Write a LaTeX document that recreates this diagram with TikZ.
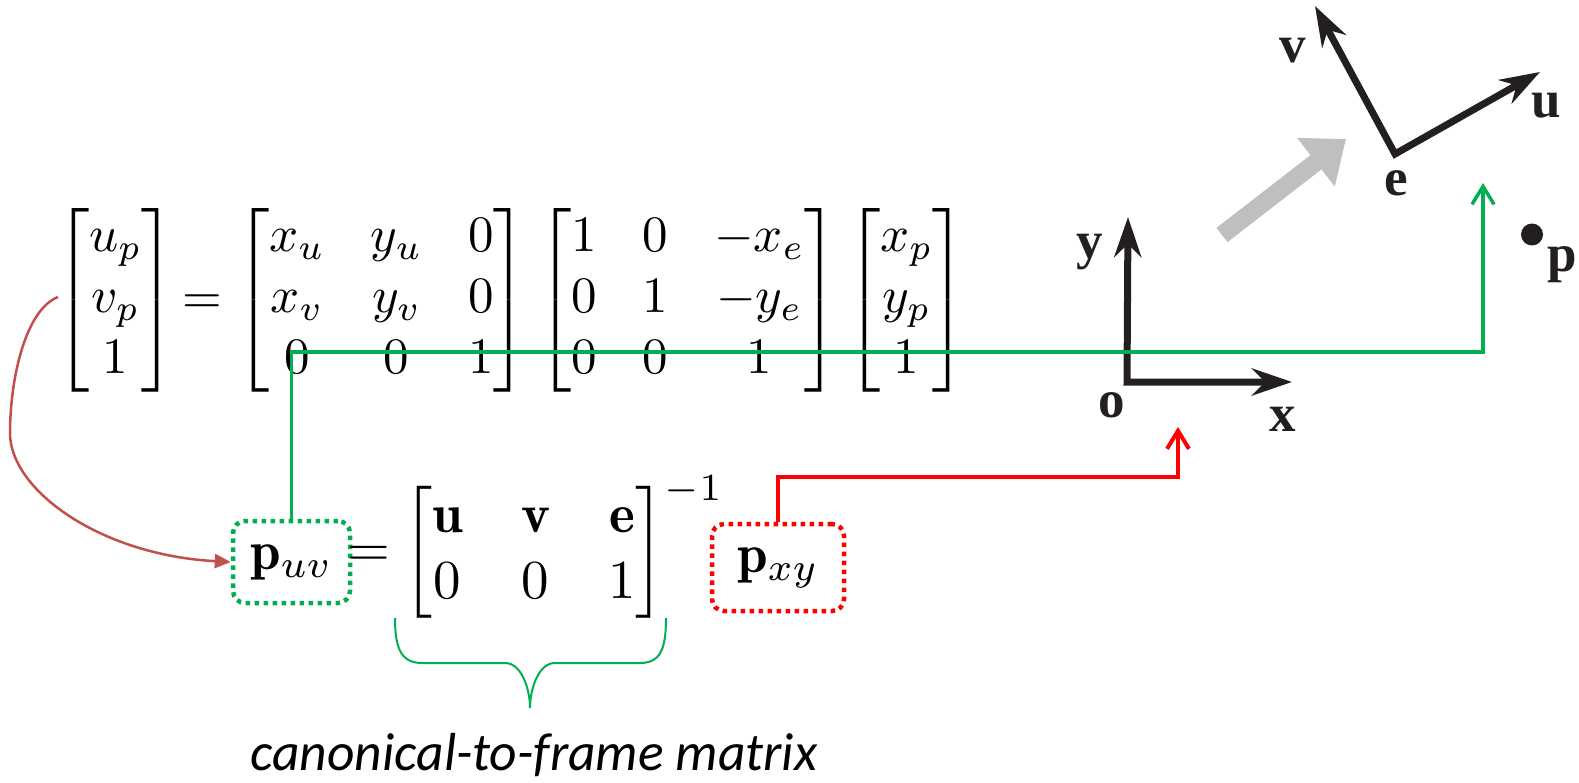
\documentclass[tikz,border=0pt]{standalone}
\usepackage{fontspec}
\usepackage{amsmath}
\usepackage{graphicx}
\usetikzlibrary{arrows.meta}
\newfontfamily\capfont{Carlito}
\newfontfamily\lblfont{Liberation Serif}
\definecolor{ogreen}{RGB}{0,176,80}
\definecolor{obrown}{RGB}{192,80,77}
\definecolor{agray}{RGB}{191,191,191}
\definecolor{ink}{RGB}{35,31,32}
\newcommand{\topeq}[1]{\scalebox{5.1}{\fontsize{10}{12}\selectfont\setlength\arraycolsep{4.5pt}$#1$}}
\newcommand{\boteq}[1]{\scalebox{5.5}{\fontsize{10}{12}\selectfont\setlength\arraycolsep{5.3pt}$#1$}}
\tikzset{
  eqnode/.style={inner sep=0pt, anchor=base west},
  dotbox/.style={line width=4.5pt, dash pattern=on 4.5pt off 4.5pt, rounded corners=12pt, inner sep=0pt},
  gline/.style={draw=ogreen, line width=3.5pt},
  rline/.style={draw=red, line width=4pt},
  barb/.style={-{Straight Barb[length=18pt,width=22pt]}},
  axisarrow/.style={draw=ink, line width=7pt, line join=miter,
    {Stealth[length=40pt,width=27pt,inset=13pt]}-{Stealth[length=40pt,width=27pt,inset=13pt]}},
  lbl/.style={font=\lblfont\bfseries\fontsize{53}{53}\selectfont, anchor=base, inner sep=0pt, text=ink},
}
\begin{document}
\begin{tikzpicture}[x=1pt,y=-1pt]
\useasboundingbox (0,0) rectangle (1579,783);

% top equation
\node[eqnode] (m1) at (55,313.25) {\topeq{\begin{bmatrix} u_p\\ v_p\\ 1\end{bmatrix}}};
\node[inner sep=0pt, anchor=base] (eq1) at (202.5,313.25) {\topeq{=}};
\node[eqnode] (m2) at (235,313.25) {\topeq{\begin{bmatrix} x_u & y_u & 0\\ x_v & y_v & 0\\ 0 & 0 & 1\end{bmatrix}}};
\node[eqnode] (m3) at (537,313.25) {\topeq{\begin{bmatrix} 1 & 0 & -x_e\\ 0 & 1 & -y_e\\ 0 & 0 & 1\end{bmatrix}}};
\node[eqnode] (m4) at (846,313.25) {\topeq{\begin{bmatrix} x_p\\ y_p\\ 1\end{bmatrix}}};

% bottom equation
\node[dotbox, draw=ogreen, minimum width=117pt, minimum height=82pt] (puv) at (291.5,562) {\boteq{\mathbf{p}_{uv}}};
\node[inner sep=0pt, anchor=base] (eq2) at (368.5,566.25) {\boteq{=}};
\node[eqnode] (mb) at (403,566.25) {\boteq{\begin{bmatrix} \mathbf{u} & \mathbf{v} & \mathbf{e}\\ 0 & 0 & 1\end{bmatrix}^{-1}}};
\node[dotbox, draw=red, minimum width=132pt, minimum height=87pt] (pxy) at (778,567.5) {\boteq{\mathbf{p}_{xy}}};

% brace and caption
\draw[ogreen, line width=2pt] (395,618) .. controls (395,650) and (402,663) .. (422,663) -- (505,663)
  .. controls (522,663) and (530,690) .. (530,708) .. controls (530,690) and (538,663) .. (555,663)
  -- (640,663) .. controls (660,663) and (666,650) .. (666,618);
\node[font=\capfont\itshape\fontsize{53.5}{53.5}\selectfont, anchor=base, inner sep=0pt] (cap) at (534,770) {canonical-to-frame matrix};

% frames
\coordinate (O) at (1127,382);
\coordinate (ytip) at (1128,217);
\coordinate (xtip) at (1292,382);
\coordinate (E) at (1395,154);
\coordinate (vtip) at (1315,6);
\coordinate (utip) at (1540,72);
\coordinate (gtail) at (1222,235);
\coordinate (gtip) at (1346,139);
\draw[axisarrow] (ytip) -- (O) -- (xtip);
\draw[axisarrow] (vtip) -- (E) -- (utip);
\draw[draw=agray, line width=18pt, -{Triangle[length=38pt,width=59pt]}] (gtail) -- (gtip);
\node[circle, fill=ink, minimum size=22pt, inner sep=0pt] (pdot) at (1532,234.5) {};
\node[lbl] (lv) at (1293,63) {v};
\node[lbl] (lu) at (1546,118) {u};
\node[lbl] (le) at (1396,196) {e};
\node[lbl] (ly) at (1090,259) {y};
\node[lbl] (lo) at (1112,417) {o};
\node[lbl] (lx) at (1283,431) {x};
\node[lbl] (lp) at (1562,272) {p};

% connectors
\coordinate (gturn) at (1483,352);
\coordinate (gend) at (1483,183);
\draw[gline, barb] (puv.north) |- (gturn) -- (gend);
\coordinate (rturn) at (1178,476.5);
\coordinate (rend) at (1178,427);
\draw[rline, barb] (pxy.north) |- (rturn) -- (rend);
\coordinate (cstart) at (58,297);
\draw[draw=obrown, line width=2.5pt, -{Triangle[length=16pt,width=14pt]}] (cstart)
  .. controls (25,310) and (10,380) .. (10,433) .. controls (10,490) and (100,555) .. (puv.west);
\end{tikzpicture}
\end{document}
